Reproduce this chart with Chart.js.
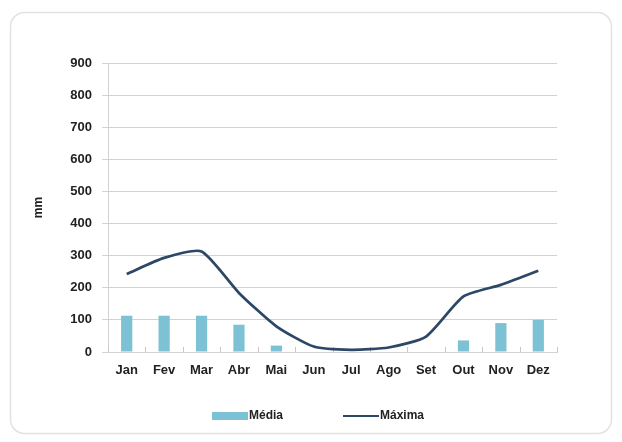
<!DOCTYPE html>
<html>
<head>
<meta charset="utf-8">
<script src="https://cdn.jsdelivr.net/npm/chart.js@4/dist/chart.umd.min.js"></script>
<style>
  html, body { margin: 0; padding: 0; background: #ffffff; }
  #wrap { position: relative; width: 622px; height: 442px; }
</style>
</head>
<body>
<div id="wrap"><canvas id="rainChart" width="622" height="442"></canvas></div>
<script>
// ====================
// Data
// ====================

const months = ["Jan", "Fev", "Mar", "Abr", "Mai", "Jun", "Jul", "Ago", "Set", "Out", "Nov", "Dez"];
const mediaValues = [113, 113, 113, 85, 20, 0, 0, 0, 0, 36, 90, 100];
const maximaValues = [243, 293, 313, 184, 80, 17, 7, 14, 48, 173, 209, 253];
const yTicks = [0, 100, 200, 300, 400, 500, 600, 700, 800, 900];

const barColor = "#7dc2d4";
const lineColor = "#2d4866";
const textColor = "#222222";
const gridColor = "#d2d2d2";
const fontFamily = "'Liberation Sans', Arial, sans-serif";

// ====================
// Plugins
// ====================

// rounded frame around the whole chart
const framePlugin = {
  id: "frame",
  beforeDraw(chart) {
    const ctx = chart.ctx;
    ctx.save();
    ctx.fillStyle = "#ffffff";
    ctx.fillRect(0, 0, chart.width, chart.height);
    ctx.strokeStyle = "#e2e2e2";
    ctx.lineWidth = 1.5;
    ctx.beginPath();
    ctx.roundRect(10.5, 12.5, chart.width - 21, chart.height - 21, 14);
    ctx.stroke();
    ctx.restore();
  },
};

// small tick marks pointing up from the category axis
const innerTicksPlugin = {
  id: "innerTicks",
  beforeDatasetsDraw(chart) {
    const x = chart.scales.x;
    const area = chart.chartArea;
    const step = (area.right - area.left) / months.length;
    const ctx = chart.ctx;
    ctx.save();
    ctx.strokeStyle = "#c8c8c8";
    ctx.lineWidth = 1;
    ctx.beginPath();
    for (let i = 0; i <= months.length; i++) {
      const px = Math.round(x.getPixelForValue(0) - step / 2 + i * step) + 0.5;
      ctx.moveTo(px, area.bottom);
      ctx.lineTo(px, area.bottom - 5);
    }
    ctx.stroke();
    ctx.restore();
  },
};

// legend below the axis: wide swatch followed by the label
const bottomLegendPlugin = {
  id: "bottomLegend",
  afterDraw(chart) {
    const ctx = chart.ctx;
    const area = chart.chartArea;
    const y = 416;
    let cx = area.left + 104;
    ctx.save();
    ctx.font = "bold 12px " + fontFamily;
    ctx.textBaseline = "middle";
    chart.data.datasets.forEach((ds) => {
      if (ds.type === "bar") {
        ctx.fillStyle = ds.backgroundColor;
        ctx.fillRect(cx, y - 4, 36, 8);
      } else {
        ctx.strokeStyle = ds.borderColor;
        ctx.lineWidth = 2;
        ctx.beginPath();
        ctx.moveTo(cx, y);
        ctx.lineTo(cx + 36, y);
        ctx.stroke();
      }
      ctx.fillStyle = textColor;
      ctx.fillText(ds.label, cx + 37, y);
      cx += 37 + ctx.measureText(ds.label).width + 60;
    });
    ctx.restore();
  },
};

// ====================
// Chart
// ====================

new Chart(document.getElementById("rainChart"), {
  data: {
    labels: months,

    datasets: [
      {
        type: "bar",
        label: "Média",
        data: mediaValues,
        backgroundColor: barColor,
        barPercentage: 0.3,
        categoryPercentage: 1,
        order: 1,
      },
      {
        type: "line",
        label: "Máxima",
        data: maximaValues,
        borderColor: lineColor,
        borderWidth: 2.75,
        pointRadius: 0,
        tension: 0.2,
        fill: false,
        order: 0,
      },
    ],
  },

  options: {
    responsive: false,
    animation: false,
    devicePixelRatio: 1,

    layout: {
      padding: { left: 20, right: 65, top: 63, bottom: 60 },
    },

    plugins: {
      legend: { display: false },
      tooltip: { enabled: false },
    },

    scales: {
      x: {
        offset: true,
        grid: { display: false },
        border: { color: gridColor, width: 1 },
        ticks: {
          color: textColor,
          padding: 3,
          maxRotation: 0,
          autoSkip: false,
          font: { family: fontFamily, size: 13, weight: "bold" },
        },
        afterFit(scale) {
          scale.height = 30;
        },
      },
      y: {
        min: 0,
        max: 900,
        afterBuildTicks(scale) {
          scale.ticks = yTicks.map((v) => ({ value: v }));
        },
        grid: {
          color: gridColor,
          lineWidth: 1,
          tickLength: 6,
        },
        border: { color: gridColor, width: 1 },
        ticks: {
          color: textColor,
          padding: 10,
          font: { family: fontFamily, size: 13, weight: "bold" },
        },
        title: {
          display: true,
          text: "mm",
          color: textColor,
          padding: { top: 11, bottom: 0 },
          font: { family: fontFamily, size: 12, weight: "bold" },
        },
        afterFit(scale) {
          scale.width = 88;
        },
      },
    },
  },

  plugins: [framePlugin, innerTicksPlugin, bottomLegendPlugin],
});
</script>
</body>
</html>
